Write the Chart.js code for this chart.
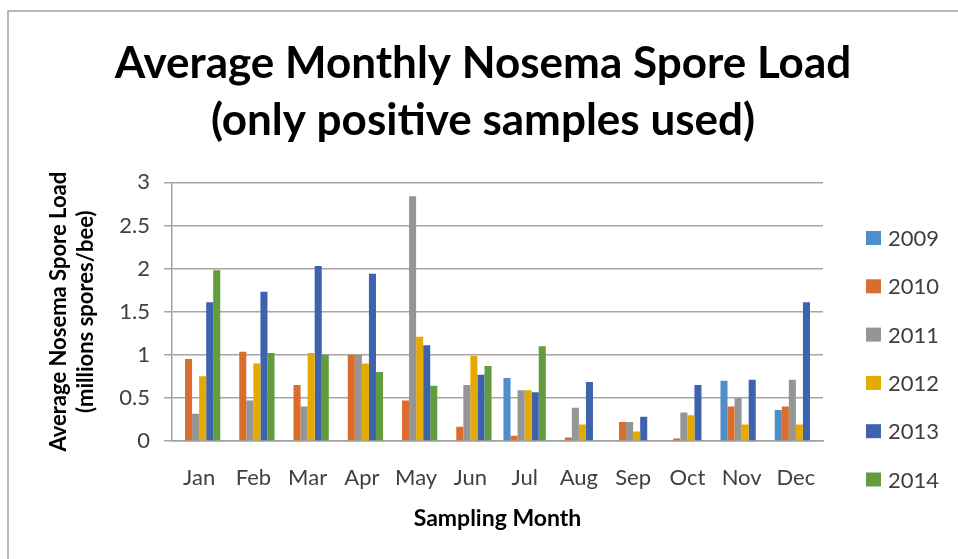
<!DOCTYPE html>
<html>
<head>
<meta charset="utf-8">
<script src="https://cdn.jsdelivr.net/npm/chart.js@4/dist/chart.umd.min.js"></script>
<style>
  html, body { margin: 0; padding: 0; background: #fff; }
  #wrap { width: 958px; height: 559px; position: relative; }
</style>
</head>
<body>
<div id="wrap"><canvas id="grafica"></canvas></div>
<script>
const months = ['Jan', 'Feb', 'Mar', 'Apr', 'May', 'Jun', 'Jul', 'Aug', 'Sep', 'Oct', 'Nov', 'Dec'];
const years = ['2009', '2010', '2011', '2012', '2013', '2014'];

const v2009 = [null, null, null, null, null, null, 0.73, null, null, null, 0.70, 0.36];
const v2010 = [0.95, 1.035, 0.65, 1.0, 0.47, 0.165, 0.06, 0.04, 0.22, 0.03, 0.40, 0.40];
const v2011 = [0.315, 0.47, 0.40, 1.0, 2.84, 0.65, 0.59, 0.385, 0.22, 0.33, 0.50, 0.71];
const v2012 = [0.75, 0.90, 1.02, 0.90, 1.21, 0.99, 0.59, 0.19, 0.11, 0.30, 0.19, 0.19];
const v2013 = [1.61, 1.73, 2.03, 1.94, 1.11, 0.77, 0.565, 0.685, 0.28, 0.65, 0.71, 1.61];
const v2014 = [1.98, 1.02, 1.0, 0.80, 0.64, 0.87, 1.10, null, null, null, null, null];

const colores = ['#4f8ec8', '#d86d2d', '#959595', '#e5aa00', '#3d63ae', '#629c3f'];
const series = [v2009, v2010, v2011, v2012, v2013, v2014];

const fuente = 'Lato, "Open Sans", sans-serif';

// marco gris arriba e izquierda
const marco = {
    id: 'marco',
    beforeDraw(chart) {
        const ctx = chart.ctx;
        ctx.save();
        ctx.fillStyle = '#fff';
        ctx.fillRect(0, 0, chart.width, chart.height);
        ctx.strokeStyle = '#a0a0a0';
        ctx.lineWidth = 1.5;
        ctx.beginPath();
        ctx.moveTo(8, chart.height);
        ctx.lineTo(8, 11);
        ctx.lineTo(chart.width, 11);
        ctx.stroke();
        ctx.restore();
    }
};

// leyenda a la derecha, como en Excel
const leyenda = {
    id: 'leyenda',
    afterDraw(chart) {
        const ctx = chart.ctx;
        ctx.save();
        ctx.font = '22px ' + fuente;
        ctx.textBaseline = 'middle';
        chart.data.datasets.forEach((ds, i) => {
            const y = 238 + i * 48.3;
            ctx.fillStyle = ds.backgroundColor;
            ctx.fillRect(866, y - 7, 15, 14);
            ctx.fillStyle = '#404040';
            ctx.fillText(ds.label, 888, y + 1);
        });
        ctx.restore();
    }
};

new Chart(document.getElementById('grafica').getContext('2d'), {
    type: 'bar',
    data: {
        labels: months,
        datasets: years.map((y, i) => ({
            label: y,
            data: series[i],
            backgroundColor: colores[i],
            borderWidth: 0,
            categoryPercentage: 0.78,
            barPercentage: 1.0
        }))
    },
    options: {
        responsive: true,
        maintainAspectRatio: false,
        animation: false,
        layout: { padding: { left: 8, right: 0, top: 0, bottom: 10 } },
        plugins: {
            legend: { display: false },
            tooltip: { enabled: false },
            title: {
                display: true,
                text: ['Average Monthly Nosema Spore Load', '(only positive samples used)'],
                color: '#000',
                font: { family: fuente, size: 44, weight: 'bold', lineHeight: 1.3 },
                padding: { top: 35, bottom: 33 }
            }
        },
        scales: {
            x: {
                grid: { display: false, drawTicks: false },
                border: { display: true, color: '#a0a0a0', width: 1.5 },
                ticks: { color: '#404040', font: { family: fuente, size: 22 }, padding: 24, maxRotation: 0 },
                title: {
                    display: true,
                    text: 'Sampling Month',
                    color: '#000',
                    font: { family: fuente, size: 23, weight: 'bold', lineHeight: 1.2 },
                    padding: { top: 0, bottom: 17 }
                },
                afterFit(scale) { scale.height = 108; }
            },
            y: {
                min: 0,
                max: 3,
                ticks: {
                    stepSize: 0.5,
                    color: '#404040',
                    font: { family: fuente, size: 22 },
                    padding: 14,
                    callback: (v) => String(v)
                },
                grid: { color: '#a6a6a6', lineWidth: 1.5, tickLength: 8 },
                border: { display: true, color: '#a0a0a0', width: 1.5 },
                title: {
                    display: true,
                    text: ['Average Nosema Spore Load', '(millions spores/bee)'],
                    color: '#000',
                    font: { family: fuente, size: 22, weight: 'bold', lineHeight: 1.2 },
                    padding: { top: 38, bottom: 0 }
                },
                afterFit(scale) { scale.width = 164; }
            },
            // espacio reservado para la leyenda
            hueco: {
                type: 'linear',
                position: 'right',
                display: true,
                grid: { display: false, drawTicks: false },
                border: { display: false },
                ticks: { display: false },
                afterFit(scale) { scale.width = 135; }
            }
        }
    },
    plugins: [marco, leyenda]
});
</script>
</body>
</html>
